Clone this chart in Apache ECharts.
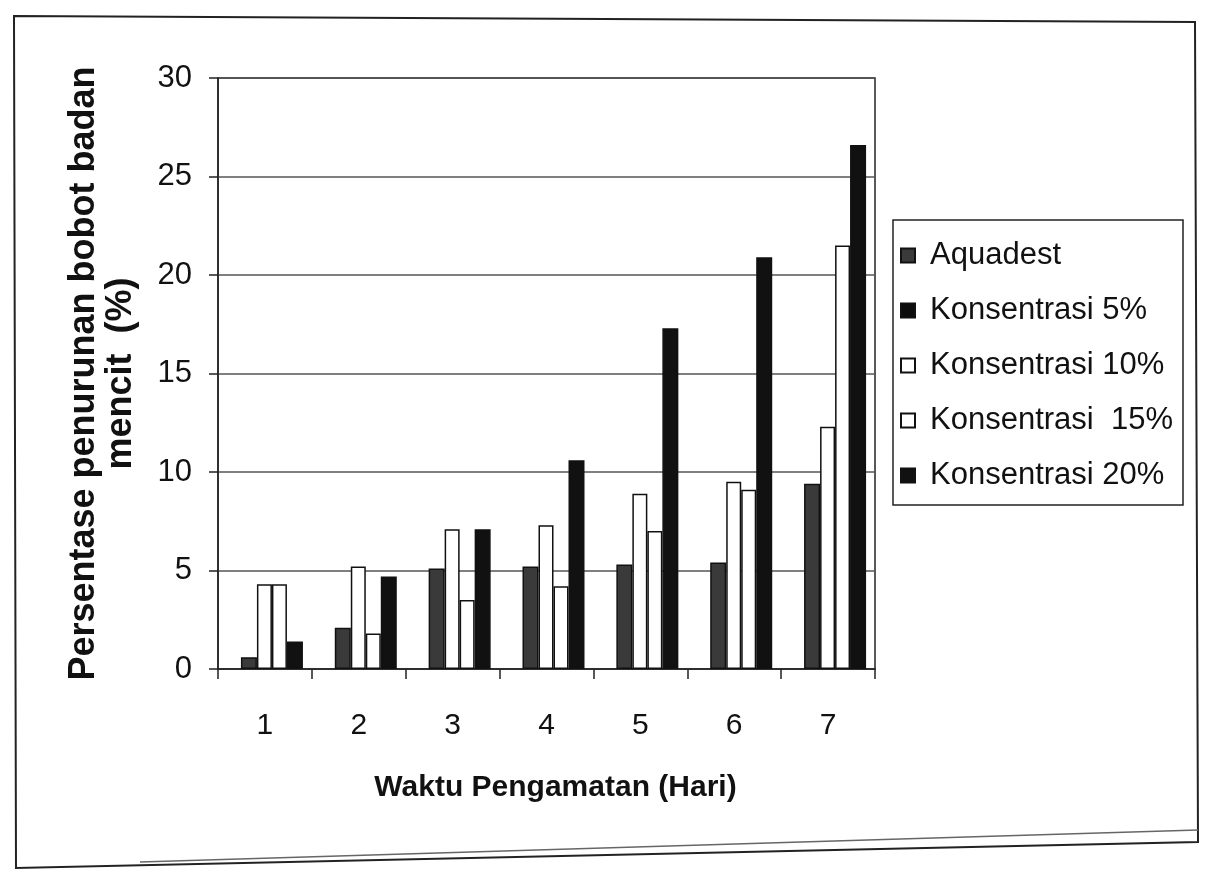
<!DOCTYPE html>
<html>
<head>
<meta charset="utf-8">
<script src="https://cdn.jsdelivr.net/npm/echarts@6/dist/echarts.min.js"></script>
<style>
html,body{margin:0;padding:0;background:#fff;}
#chart{width:1215px;height:878px;}
</style>
</head>
<body>
<div id="chart"></div>
<script>
// Data
const days = ['1', '2', '3', '4', '5', '6', '7'];
const aquadest = [0.6, 2.1, 5.1, 5.2, 5.3, 5.4, 9.4];
const konsentrasi5 = ['-', '-', '-', '-', '-', '-', '-'];
const konsentrasi10 = [4.3, 5.2, 7.1, 7.3, 8.9, 9.5, 12.3];
const konsentrasi15 = [4.3, 1.8, 3.5, 4.2, 7.0, 9.1, 21.5];
const konsentrasi20 = [1.4, 4.7, 7.1, 10.6, 17.3, 20.9, 26.6];
const seriesNames = ['Aquadest', 'Konsentrasi 5%', 'Konsentrasi 10%', 'Konsentrasi  15%', 'Konsentrasi 20%'];
const yTicks = { min: 0, max: 30, interval: 5 };

const FONT = '"Liberation Sans", Arial, sans-serif';
const chart = echarts.init(document.getElementById('chart'));

function barSeries(name, data, fill, stack, width) {
  return {
    name: name,
    type: 'bar',
    data: data,
    stack: stack,
    barWidth: width,
    barGap: '0%',
    itemStyle: { color: fill, borderColor: '#111', borderWidth: 1.5 }
  };
}

chart.setOption({
  backgroundColor: '#fff',
  animation: false,
  textStyle: { fontFamily: FONT },
  graphic: [
    { type: 'polygon', z: -10, shape: { points: [[14, 16], [1195, 22], [1198, 842], [16, 868]] },
      style: { fill: 'none', stroke: '#222', lineWidth: 2 } },
    { type: 'polyline', z: -10, shape: { points: [[140, 862], [1198, 830]] },
      style: { stroke: '#666', lineWidth: 1.5 } },
    { type: 'rect', z: -5, shape: { x: 893, y: 220, width: 290, height: 285 },
      style: { fill: '#fff', stroke: '#222', lineWidth: 1.5 } }
  ],
  grid: {
    left: 218, top: 78, right: 340, bottom: 209,
    show: true, borderColor: '#222', borderWidth: 1.5, backgroundColor: 'transparent'
  },
  legend: {
    orient: 'vertical',
    left: 895, top: 235,
    itemWidth: 14, itemHeight: 14,
    itemGap: 24,
    icon: 'rect',
    data: seriesNames,
    textStyle: { fontSize: 31, color: '#111', fontFamily: FONT, padding: [0, 0, 0, 10] }
  },
  xAxis: {
    type: 'category',
    data: days,
    boundaryGap: true,
    axisLine: { lineStyle: { color: '#222', width: 1.5 } },
    axisTick: { show: true, length: 10, lineStyle: { color: '#222', width: 1.5 } },
    axisLabel: { fontSize: 30, color: '#111', margin: 42 },
    name: 'Waktu Pengamatan (Hari)',
    nameLocation: 'middle',
    nameGap: 104,
    nameTextStyle: { fontSize: 30, fontWeight: 'bold', color: '#111', padding: [0, 0, 0, 18] }
  },
  yAxis: {
    type: 'value',
    min: yTicks.min, max: yTicks.max, interval: yTicks.interval,
    axisLine: { show: true, lineStyle: { color: '#222', width: 1.5 } },
    axisTick: { show: true, length: 9, lineStyle: { color: '#222', width: 1.5 } },
    axisLabel: { fontSize: 31, color: '#111', margin: 26 },
    splitLine: { show: true, lineStyle: { color: '#555', width: 1.5 } },
    name: 'Persentase penurunan bobot badan\nmencit  (%)',
    nameLocation: 'middle',
    nameGap: 78,
    nameRotate: 90,
    nameTextStyle: { fontSize: 36, fontWeight: 'bold', color: '#111', lineHeight: 37 }
  },
  series: [
    // empty 5% slot sits first in each group, so the drawn bars sit right of the tick centre as in the picture
    barSeries(seriesNames[1], konsentrasi5, '#0d0d0d', 's5', 14),
    barSeries(seriesNames[0], aquadest, '#3a3a3a', 'aq', 16),
    barSeries(seriesNames[2], konsentrasi10, '#ffffff', 's10', 15),
    barSeries(seriesNames[3], konsentrasi15, '#ffffff', 's15', 15),
    barSeries(seriesNames[4], konsentrasi20, '#111111', 's20', 16)
  ]
});
</script>
</body>
</html>
